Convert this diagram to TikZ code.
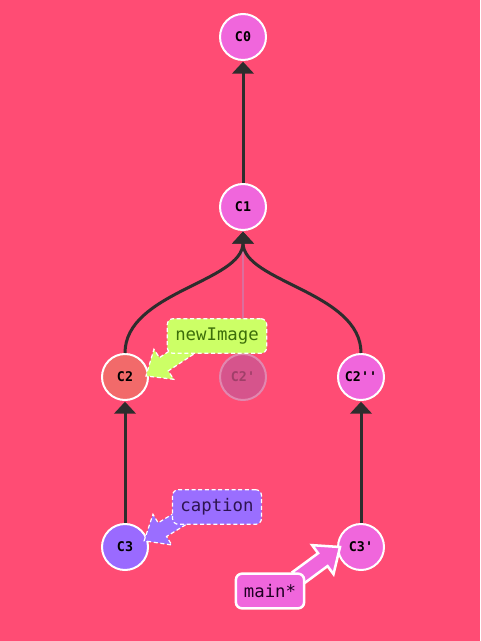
\documentclass[tikz,border=0pt]{standalone}
\usepackage{fontspec}
\setmonofont{DejaVu Sans Mono}
\usetikzlibrary{arrows.meta,positioning,calc}

\definecolor{bgpink}{RGB}{255,76,116}
\definecolor{commitpink}{RGB}{240,102,220}
\definecolor{commitred}{RGB}{242,106,106}
\definecolor{commitpurple}{RGB}{154,106,255}
\definecolor{fadepink}{RGB}{214,84,140}
\definecolor{edgegray}{RGB}{45,45,45}
\definecolor{taggreen}{RGB}{204,255,102}
\definecolor{tagpurple}{RGB}{154,110,255}

\pgfdeclarelayer{bg}
\pgfdeclarelayer{tags}
\pgfsetlayers{bg,main,tags}

% block arrow from a tag to its commit: #1 style, #2 from, #3 to
\newcommand{\tagarrow}[3]{%
  \path (#2) coordinate (ta-s) (#3) coordinate (ta-e);
  \path ($(ta-e)!16pt!(ta-s)$) coordinate (ta-h);
  \draw[#1] ($(ta-s)!6pt!90:(ta-e)$) -- ($(ta-h)!6pt!90:(ta-e)$)
    -- ($(ta-h)!13.5pt!90:(ta-e)$) -- (ta-e) -- ($(ta-h)!13.5pt!-90:(ta-e)$)
    -- ($(ta-h)!6pt!-90:(ta-e)$) -- ($(ta-s)!6pt!-90:(ta-e)$) -- cycle;
}

\begin{document}
\begin{tikzpicture}[
  x=0.75pt, y=-0.75pt,
  node distance=91.5pt and 52.5pt,
  commit/.style={circle, draw=white, line width=1.5pt, fill=commitpink, minimum size=34.5pt,
    inner sep=0pt, font=\ttfamily\bfseries\fontsize{10}{12}\selectfont},
  edge/.style={draw=edgegray, line width=2.25pt, -{Triangle[width=16pt,length=9pt]}, shorten >=0.5pt},
  tag/.style={rounded corners=4.5pt, minimum height=26pt, inner xsep=6pt,
    font=\ttfamily\fontsize{13}{15}\selectfont},
  tagline/.style={draw=white, line width=0.9pt, dash pattern=on 3pt off 2pt}
]
\useasboundingbox (0,0) rectangle (480,641);
\begin{pgfonlayer}{bg}
  \fill[bgpink] (0,0) rectangle (480,641);
\end{pgfonlayer}

% commits
\node[commit] (C0) at (243,37) {C0};
\node[commit, below=of C0] (C1) {C1};
\node[commit, below=of C1, fill=fadepink, draw=white!30!fadepink, text=black!25!fadepink] (C2p) {C2'};
\node[commit, left=of C2p, fill=commitred] (C2) {C2};
\node[commit, right=of C2p] (C2pp) {C2''};
\node[commit, below=of C2, fill=commitpurple] (C3) {C3};
\node[commit, below=of C2pp] (C3p) {C3'};

% parents
\draw[edge] (C1) -- (C0);
\draw[draw=white!15!fadepink, line width=1.1pt] (C2p) -- (C1.south);
\draw[edge] (C2) .. controls +(0,-85) and +(0,75) .. (C1);
\draw[edge] (C2pp) .. controls +(0,-85) and +(0,75) .. (C1);
\draw[edge] (C3) -- (C2);
\draw[edge] (C3p) -- (C2pp);

% branch tags
\begin{pgfonlayer}{tags}
\node[tag, tagline, fill=taggreen, text={rgb,255:red,60;green,110;blue,10}] (newimage) at (217,336) {newImage};
\node[tag, tagline, fill=tagpurple, text={rgb,255:red,45;green,20;blue,80}] (caption) at (217,507) {caption};
\node[tag, draw=white, line width=1.9pt, fill=commitpink, text={rgb,255:red,30;green,0;blue,35}] (main) at (270,591) {main*};
\end{pgfonlayer}

\tagarrow{tagline, fill=taggreen}{$(newimage.south west)+(28,-10)$}{$(C2.east)+(-3,-1)$}
\tagarrow{tagline, fill=tagpurple}{$(caption.south west)+(21,-14)$}{$(C3.15)+(-4,0)$}
\tagarrow{draw=white, line width=1.9pt, fill=commitpink}{$(main.north east)+(-8,6)$}{$(C3p.west)+(3,0)$}
\end{tikzpicture}
\end{document}
